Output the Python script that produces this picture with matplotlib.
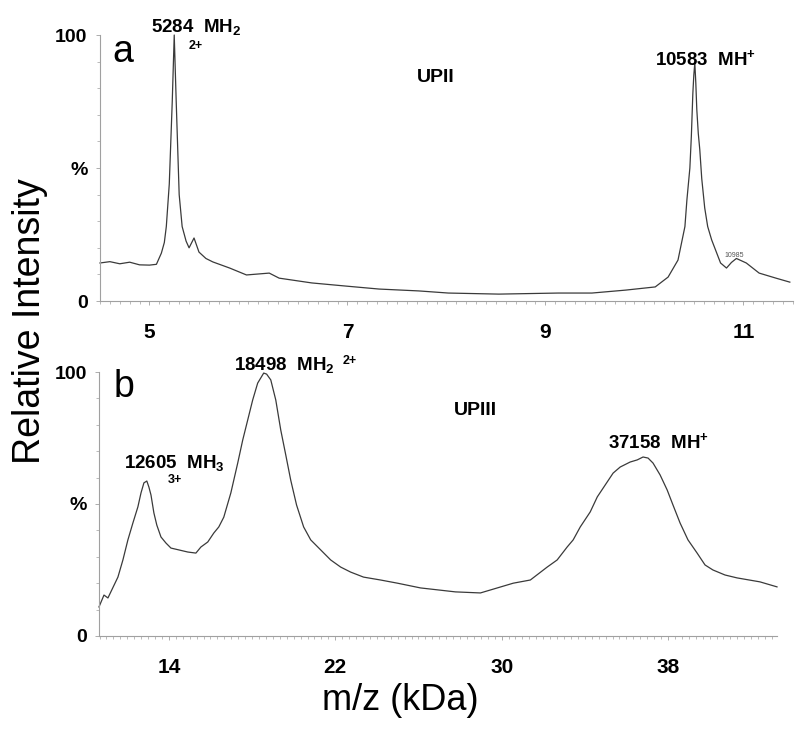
import matplotlib
matplotlib.use("Agg")
import matplotlib.pyplot as plt
from matplotlib.ticker import MultipleLocator, FixedLocator, FixedFormatter

# ---------------- data ----------------
# Panel a: UPII, m/z in kDa, relative intensity in %
a_mz = [4.50, 4.60, 4.70, 4.80, 4.90, 5.00, 5.07, 5.12, 5.15, 5.17, 5.20, 5.23,
        5.25, 5.27, 5.30, 5.33, 5.37, 5.40, 5.45, 5.50, 5.57, 5.64, 5.81, 5.98,
        6.21, 6.31, 6.64, 6.99, 7.32, 7.72, 8.02, 8.53, 9.13, 9.47, 9.81,
        10.11, 10.24, 10.34, 10.41, 10.43, 10.46, 10.475, 10.49, 10.50, 10.51,
        10.52, 10.53, 10.545, 10.56, 10.58, 10.61, 10.64, 10.68, 10.77, 10.83,
        10.88, 10.93, 11.03, 11.16, 11.33, 11.47]
a_int = [14.3, 14.8, 14.0, 14.6, 13.6, 13.5, 13.8, 18.0, 22.0, 28.0, 44.0, 75.0,
         100.0, 75.0, 40.0, 28.0, 22.5, 20.0, 23.7, 18.4, 16.0, 14.7, 12.4, 9.8,
         10.5, 8.6, 6.8, 5.6, 4.5, 3.8, 3.0, 2.6, 3.0, 3.0, 4.1,
         5.3, 9.0, 15.4, 28.0, 38.0, 50.0, 62.0, 78.0, 85.0, 89.5,
         82.0, 72.0, 63.0, 57.0, 46.0, 35.0, 28.0, 23.0, 14.3, 12.4,
         14.5, 16.0, 14.3, 10.5, 8.6, 7.1]

# Panel b: UPIII
b_mz = [10.64, 10.88, 11.07, 11.55, 11.79, 12.03, 12.27, 12.51, 12.66, 12.80,
        12.94, 13.04, 13.14, 13.28, 13.42, 13.62, 13.86, 14.10, 14.48, 14.91,
        15.30, 15.54, 15.87, 16.16, 16.40, 16.64, 16.98, 17.31, 17.55, 17.79,
        18.03, 18.27, 18.56, 18.70, 18.90, 19.14, 19.38, 19.62, 19.86, 20.14,
        20.48, 20.82, 21.30, 21.78, 22.26, 22.74, 23.36, 24.18, 24.99, 26.10,
        27.78, 28.98, 30.56, 31.38, 32.19, 32.67, 33.15, 33.44, 33.78, 34.26,
        34.60, 34.98, 35.36, 35.70, 36.18, 36.52, 36.80, 37.04, 37.28, 37.62,
        37.96, 38.24, 38.58, 38.96, 39.40, 39.78, 40.16, 40.74, 41.32, 42.42,
        43.24]
b_int = [11.0, 15.5, 14.4, 22.3, 28.8, 36.4, 42.8, 48.9, 54.2, 58.0,
         58.7, 56.4, 53.4, 46.6, 42.0, 37.5, 35.2, 33.3, 32.6, 31.8,
         31.4, 33.7, 35.6, 39.0, 41.3, 45.0, 54.2, 65.5, 74.2, 81.8,
         89.4, 95.8, 99.6, 99.2, 97.0, 89.4, 78.0, 68.6, 59.0, 49.6,
         41.3, 36.4, 32.6, 28.8, 26.1, 24.2, 22.3, 21.2, 20.0, 18.2,
         16.7, 16.3, 20.0, 21.2, 26.1, 28.8, 33.7, 36.4, 41.3, 47.0,
         52.7, 57.2, 61.7, 64.0, 65.9, 66.7, 67.8, 67.4, 65.5, 61.0,
         55.3, 49.6, 42.8, 36.4, 31.4, 26.9, 25.0, 23.1, 22.0, 20.5,
         18.6]

a_xticks = [5, 7, 9, 11]
b_xticks = [14, 22, 30, 38]
y_ticks = [0, 50, 100]
y_ticklabels = ["0", "%", "100"]

# ---------------- style ----------------
plt.rcParams['mathtext.default'] = 'regular'
NARROW = ['Liberation Sans Narrow', 'Liberation Sans', 'DejaVu Sans']
SANS = ['Liberation Sans', 'DejaVu Sans']
plt.rcParams['font.family'] = NARROW

LINE = '#3a3a3a'
SPINE = '#a0a0a0'

fig = plt.figure(figsize=(8.0, 7.31), dpi=100)
ax_a = fig.add_axes([0.125, 0.5882, 0.866, 0.3639])
ax_b = fig.add_axes([0.124, 0.1300, 0.8475, 0.3611])


def style(ax, xlim, xticks, minor):
    ax.set_xlim(*xlim)
    ax.set_ylim(0, 100)
    for s in ('top', 'right'):
        ax.spines[s].set_visible(False)
    for s in ('left', 'bottom'):
        ax.spines[s].set_color(SPINE)
        ax.spines[s].set_linewidth(0.8)
    ax.xaxis.set_major_locator(FixedLocator(xticks))
    ax.set_xticklabels([str(t) for t in xticks])
    ax.xaxis.set_minor_locator(MultipleLocator(minor))
    ax.yaxis.set_major_locator(FixedLocator(y_ticks))
    ax.yaxis.set_major_formatter(FixedFormatter(y_ticklabels))
    ax.yaxis.set_minor_locator(MultipleLocator(10))
    ax.tick_params(axis='x', which='major', length=3, width=0.6, color=SPINE,
                   pad=13, labelsize=15)
    ax.tick_params(axis='x', which='minor', length=2, width=0.5, color=SPINE)
    ax.tick_params(axis='y', which='major', length=3, width=0.6, color=SPINE,
                   pad=6, labelsize=14)
    ax.tick_params(axis='y', which='minor', length=2, width=0.5, color=SPINE)
    for lab in ax.get_xticklabels() + ax.get_yticklabels():
        lab.set_fontweight('bold')


style(ax_a, (4.5, 11.5), a_xticks, 0.1)
style(ax_b, (10.65, 43.25), b_xticks, 1/3)

ax_a.plot(a_mz, a_int, color=LINE, lw=0.9, clip_on=False)
ax_b.plot(b_mz, b_int, color=LINE, lw=0.9, clip_on=False)

bold = dict(fontweight='bold', fontsize=13.5, color='black', clip_on=False)

# panel a annotations
ax_a.text(4.63, 89.8, 'a', fontsize=27, family=SANS, va='baseline')
ax_a.text(5.02, 101.1, '5284  MH$_2$', va='baseline', **bold)
ax_a.text(5.40, 95.9, '2+', va='center', fontweight='bold', fontsize=9)
ax_a.text(10.11, 88.7, '10583  MH$^{+}$', va='baseline', **bold)
ax_a.text(10.91, 17.3, '10985', ha='center', va='center', fontsize=5,
          color='#555555')
ax_a.text(7.89, 84.2, 'UPII', ha='center', va='center', fontweight='bold',
          fontsize=14, family=SANS)

# panel b annotations
ax_b.text(11.36, 90.5, 'b', fontsize=27, family=SANS, va='baseline')
ax_b.text(17.12, 100.8, '18498  MH$_2$', va='baseline', **bold)
ax_b.text(22.35, 104.0, '2+', va='center', fontweight='bold', fontsize=9)
ax_b.text(11.84, 63.6, '12605  MH$_3$', va='baseline', **bold)
ax_b.text(13.95, 59.0, '3+', va='center', fontweight='bold', fontsize=9)
ax_b.text(35.12, 71.2, '37158  MH$^{+}$', va='baseline', **bold)
ax_b.text(28.74, 85.6, 'UPIII', ha='center', va='center', fontweight='bold',
          fontsize=14, family=SANS)

fig.text(0.038, 0.561, 'Relative Intensity', rotation=90, ha='center',
         va='center', fontsize=27, family=SANS)
fig.text(0.5, 0.042, 'm/z (kDa)', ha='center', va='center', fontsize=26,
         family=SANS)

fig.savefig('out.png', dpi=100)
